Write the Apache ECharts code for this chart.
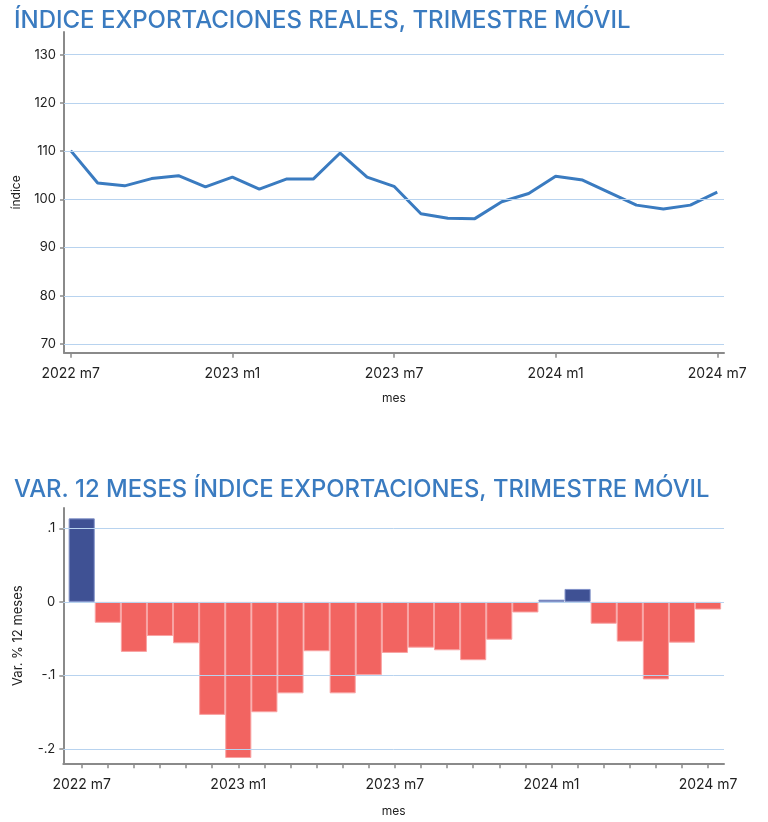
<!DOCTYPE html>
<html><head><meta charset="utf-8">
<script src="https://cdn.jsdelivr.net/npm/echarts@6/dist/echarts.min.js"></script>
<style>html,body{margin:0;padding:0;background:#fff}#c{width:768px;height:822px}</style>
</head><body><div id="c"></div>
<script>
var months = ["2022 m7","2022 m8","2022 m9","2022 m10","2022 m11","2022 m12","2023 m1","2023 m2","2023 m3","2023 m4","2023 m5","2023 m6","2023 m7","2023 m8","2023 m9","2023 m10","2023 m11","2023 m12","2024 m1","2024 m2","2024 m3","2024 m4","2024 m5","2024 m6","2024 m7"];
var indice = [110.1,103.4,102.8,104.3,104.9,102.6,104.6,102.1,104.2,104.2,109.6,104.6,102.7,97.0,96.1,96.0,99.5,101.2,104.8,104.0,101.4,98.8,98.0,98.8,101.5];
var var12 = [0.1135,-0.0284,-0.068,-0.0464,-0.0563,-0.1536,-0.2122,-0.15,-0.1243,-0.0671,-0.1243,-0.0995,-0.0694,-0.0622,-0.0658,-0.0793,-0.0514,-0.0144,0.003,0.0176,-0.0297,-0.054,-0.1054,-0.0554,-0.0104];
var labelIdx = [0,6,12,18,24];
var topTicks = [70,80,90,100,110,120,130];
var botTicks = [0.1,0,-0.1,-0.2];
var botLabels = {"0.1":".1","0":"0","-0.1":"-.1","-0.2":"-.2"};
var title1 = 'ÍNDICE EXPORTACIONES REALES, TRIMESTRE MÓVIL';
var title2 = 'VAR. 12 MESES ÍNDICE EXPORTACIONES, TRIMESTRE MÓVIL';

var allIdx = months.map(function(m,i){return i;});
var TXT = '#222';
var AX = '#8a8a8a';
var GRIDC = '#b8d3ef';
var FONT = 'Inter';
var TFONT = 'Inter';

function fitSize(text, target, weight, family){
  var cv = document.createElement('canvas').getContext('2d');
  cv.font = weight + ' 20px ' + family;
  var w = cv.measureText(text).width;
  return 20 * target / w;
}
var ts1 = fitSize(title1, 617, 500, TFONT);
var ts2 = fitSize(title2, 696, 500, TFONT);

function xAxisCfg(gi, min, max, ticks, gap){
  return {type:'value', gridIndex:gi, min:min, max:max,
    name:'mes', nameLocation:'middle', nameGap:gap, nameTextStyle:{color:TXT,fontSize:12,fontFamily:FONT},
    axisLine:{show:true,onZero:false,lineStyle:{color:AX,width:2}},
    axisTick:{show:true,length:5,customValues:ticks,lineStyle:{color:AX,width:1.5}},
    axisLabel:{customValues:labelIdx,color:TXT,fontSize:14,fontFamily:FONT,margin:14,
      formatter:function(v){return months[Math.round(v)];}},
    splitLine:{show:false}};
}

var option = {
  animation:false,
  backgroundColor:'#fff',
  title:[
    {text:title1, left:9, top:4,
     textStyle:{color:'#3a7bc0',fontSize:ts1,fontWeight:500,fontFamily:TFONT}},
    {text:title2, left:9, top:473,
     textStyle:{color:'#3a7bc0',fontSize:ts2,fontWeight:500,fontFamily:TFONT}}
  ],
  grid:[
    {left:64, right:44, top:32, height:320.7},
    {left:63.3, right:44, top:508, height:255.3}
  ],
  xAxis:[
    xAxisCfg(0,-0.25,24.25,labelIdx,40),
    xAxisCfg(1,-0.705,24.61,allIdx,42)
  ],
  yAxis:[
    {type:'value', gridIndex:0, min:68.2, max:134.7,
     name:'índice', nameLocation:'middle', nameGap:42, nameRotate:90,
     nameTextStyle:{color:TXT,fontSize:12,fontFamily:FONT},
     axisLine:{show:true,onZero:false,lineStyle:{color:AX,width:2}},
     axisTick:{show:true,length:4,customValues:topTicks,lineStyle:{color:AX,width:1.5}},
     axisLabel:{customValues:topTicks,color:TXT,fontSize:13,fontFamily:FONT,margin:8},
     splitLine:{show:false}},
    {type:'value', gridIndex:1, min:-0.2194, max:0.1276,
     name:'Var. % 12 meses', nameLocation:'middle', nameGap:39, nameRotate:90,
     nameTextStyle:{color:TXT,fontSize:13,fontFamily:FONT},
     axisLine:{show:true,onZero:false,lineStyle:{color:AX,width:2}},
     axisTick:{show:true,length:4,customValues:botTicks,lineStyle:{color:AX,width:1.5}},
     axisLabel:{customValues:botTicks,color:TXT,fontSize:13,fontFamily:FONT,margin:8,
       formatter:function(v){var k=(Math.round(v*10)/10).toString();return botLabels[k]!==undefined?botLabels[k]:k;}},
     splitLine:{show:false}}
  ],
  series:[
    {type:'line', xAxisIndex:0, yAxisIndex:0, data:[], z:1, silent:true,
     markLine:{silent:true,symbol:'none',label:{show:false},lineStyle:{color:GRIDC,width:1,type:'solid'},
       data:topTicks.map(function(t){return {yAxis:t};})}},
    {type:'line', xAxisIndex:0, yAxisIndex:0, z:3,
     data:indice.map(function(v,i){return [i,v];}),
     showSymbol:false, lineStyle:{color:'#3a7bc0',width:3}, itemStyle:{color:'#3a7bc0'}},
    {type:'line', xAxisIndex:1, yAxisIndex:1, data:[], z:1, silent:true,
     markLine:{silent:true,symbol:'none',label:{show:false},lineStyle:{color:GRIDC,width:1,type:'solid'},
       data:botTicks.map(function(t){return {yAxis:t};})}},
    {type:'bar', xAxisIndex:1, yAxisIndex:1, z:3, barWidth:26.1,
     data:var12.map(function(v,i){
       var pos = v>=0;
       return {value:[i,v], itemStyle:{color:pos?'#3f5194':'#f26461', borderColor:pos?'#8090c8':'#f8a3a3', borderWidth:1}};
     })}
  ]
};
var chart = echarts.init(document.getElementById('c'), null, {renderer:'canvas'});
chart.setOption(option);
</script>
</body></html>
